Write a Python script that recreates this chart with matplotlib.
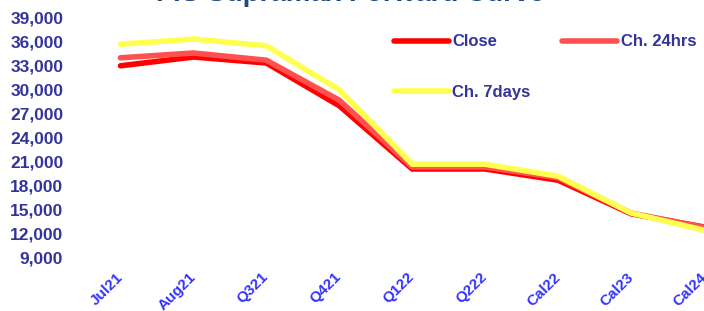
import matplotlib
matplotlib.use("Agg")
import matplotlib.pyplot as plt

# forward curve points
periods = ["Jul21", "Aug21", "Q321", "Q421", "Q122", "Q222", "Cal22", "Cal23", "Cal24"]
close = [32900, 34000, 33250, 27900, 20000, 20000, 18600, 14400, 12750]
ch_24hrs = [33900, 34500, 33600, 28600, 20250, 20250, 18900, 14500, 12700]
ch_7days = [35600, 36250, 35400, 29900, 20600, 20600, 19100, 14500, 12350]
yticks = list(range(9000, 39001, 3000))

YLBL = "#333399"
XLBL = "#3333ff"
FONT = ["Liberation Sans", "DejaVu Sans"]

fig = plt.figure(figsize=(7.04, 3.11), dpi=100)
ax = fig.add_axes([84 / 704, 1 - 257 / 311, 1 - 84 / 704, (257 - 17) / 311])

x = range(len(periods))
l1, = ax.plot(x, close, color="#ff0000", lw=4, solid_capstyle="round", label="Close")
l2, = ax.plot(x, ch_24hrs, color="#ff5050", lw=4, solid_capstyle="round", label="Ch. 24hrs")
l3, = ax.plot(x, ch_7days, color="#ffff50", lw=4, solid_capstyle="round", label="Ch. 7days")

ax.set_xlim(-0.5, len(periods) - 1)
ax.set_ylim(9000, 39000)
ax.set_yticks(yticks)
ax.set_yticklabels([f"{v:,}" for v in yticks], fontsize=12.5, fontweight="bold",
                   color=YLBL, family=FONT)
ax.set_xticks(list(x))
ax.set_xticklabels(periods, rotation=45, ha="right", va="center", rotation_mode="anchor",
                   fontsize=11, fontweight="bold", color=XLBL, family=FONT)
ax.tick_params(axis="y", length=0, pad=15)
ax.tick_params(axis="x", length=0, pad=13)
for s in ax.spines.values():
    s.set_visible(False)

leg = ax.legend([l1, l3, l2], ["Close", "Ch. 7days", "Ch. 24hrs"], ncol=2,
                loc="center left", bbox_to_anchor=(394 / 704, 1 - 67 / 311),
                bbox_transform=fig.transFigure, frameon=False, borderpad=0,
                borderaxespad=0, handlelength=3.3, handletextpad=0.2,
                labelspacing=2.1, columnspacing=1.9,
                prop={"family": FONT, "weight": "bold", "size": 12})
for t in leg.get_texts():
    t.set_color(YLBL)

fig.text(350 / 704, 1 - 1 / 311, "FIS Supramax Forward Curve", ha="center",
         va="baseline", fontsize=20, fontweight="bold", color="#1f497d", family=FONT)

fig.savefig("out.png")
